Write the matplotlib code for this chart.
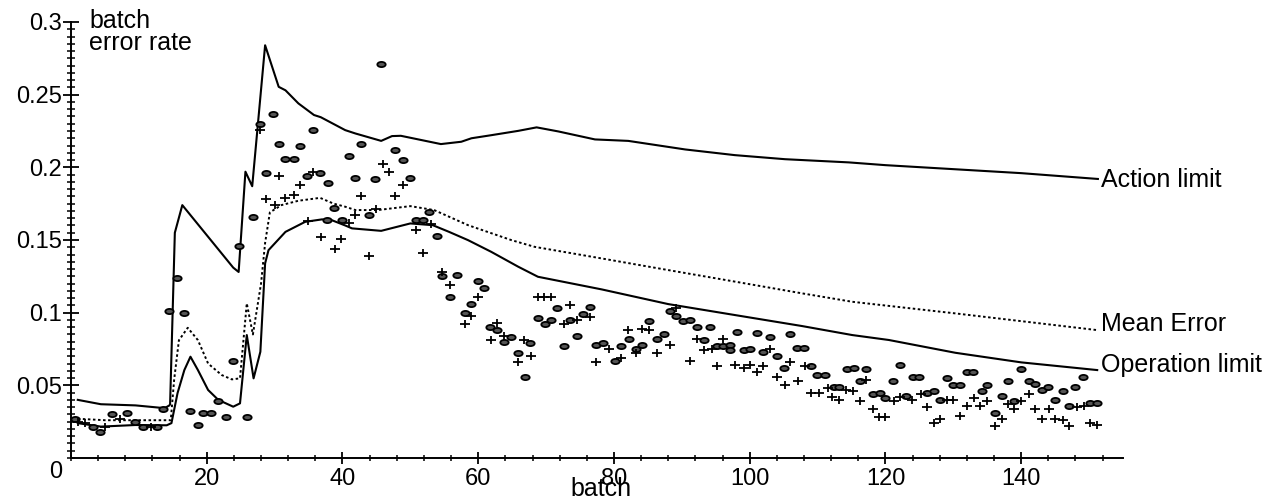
import numpy as np
import matplotlib
matplotlib.use("Agg")
import matplotlib.pyplot as plt
from matplotlib.path import Path
from matplotlib.transforms import Affine2D
from matplotlib.ticker import MultipleLocator, FixedLocator

plt.rcParams['font.family'] = ['Liberation Sans', 'DejaVu Sans']

# --- limit lines ---
action_x = [1, 4.4, 9.5, 13.1, 13.6, 14.5, 14.6, 15.3, 16.4, 23.9, 24.7, 25.7, 26.7, 28.6,
            30.6, 31.6, 33.5, 35.8, 36.8, 40.4, 41.9, 45.7, 47.3, 48.6, 54.5, 57.5, 59,
            61.9, 65.9, 68.6, 71.8, 77.2, 82.1, 90.5, 97.8, 105.2, 114.6, 120, 140, 151.3]
action_y = [0.040, 0.037, 0.0362, 0.0346, 0.0338, 0.0362, 0.037, 0.155, 0.174, 0.131, 0.128,
            0.197, 0.187, 0.284, 0.2554, 0.253, 0.244, 0.236, 0.2345, 0.2256, 0.2233, 0.2182,
            0.2215, 0.2217, 0.216, 0.2176, 0.220, 0.2221, 0.2251, 0.2275, 0.2247, 0.2192,
            0.2182, 0.2123, 0.2084, 0.2056, 0.2034, 0.2015, 0.196, 0.192]

mean_x = [1, 5, 14.5, 14.7, 15.2, 15.9, 17.2, 18.7, 20.2, 22.2, 23.7, 24.9, 25.9, 26.8, 28.0,
          28.6, 29.3, 31, 33.5, 36.7, 38.7, 40.4, 41.9, 45.2, 50, 53.5, 58.5, 64.9, 68.3,
          78.2, 88, 97.9, 107.7, 115.1, 130.3, 151.2]
mean_y = [0.027, 0.026, 0.026, 0.026, 0.054, 0.081, 0.0896, 0.0811, 0.065, 0.0571, 0.0541,
          0.0548, 0.1064, 0.085, 0.12, 0.148, 0.169, 0.174, 0.177, 0.179, 0.175, 0.1729,
          0.1706, 0.1706, 0.1733, 0.1706, 0.1602, 0.1499, 0.1453, 0.1373, 0.1293, 0.1213,
          0.1133, 0.1075, 0.0995, 0.088]

oper_x = [1, 4.4, 9.5, 14.1, 14.8, 15.7, 16.7, 17.6, 18.7, 20.2, 21.7, 23.9, 24.9, 25.9,
          26.9, 27.9, 28.6, 29.1, 31.6, 34.5, 37, 38.5, 40.4, 41.4, 45.7, 50, 53.3, 55.7,
          58.5, 61.9, 65.9, 68.8, 78.2, 88, 97.9, 107.7, 115.1, 120.5, 130.3, 140, 151.2]
oper_y = [0.024, 0.0216, 0.0227, 0.0225, 0.024, 0.0447, 0.0605, 0.0697, 0.0605, 0.0468,
          0.040, 0.0353, 0.0376, 0.0846, 0.0548, 0.0731, 0.1339, 0.143, 0.1556, 0.1625,
          0.1642, 0.1635, 0.160, 0.158, 0.1563, 0.1614, 0.1602, 0.1556, 0.1499, 0.1419,
          0.1316, 0.1247, 0.116, 0.1059, 0.0983, 0.0908, 0.0846, 0.0812, 0.0724, 0.0658,
          0.0605]

# --- batch error rates, two kinds of marks ---
circ_x = [0.6, 3.2, 4.2, 6.0, 8.3, 9.4, 10.6, 12.6, 13.5,
          14.5, 15.6, 16.6, 17.6, 18.7, 19.5, 20.7, 21.7, 22.8, 23.9, 24.7, 25.9, 26.8,
          27.8, 28.8, 29.8, 30.7, 31.6, 32.8, 33.7, 34.8, 35.7, 36.7, 37.9, 38.8, 37.7, 39.9,
          45.7, 42.8, 40.9, 47.8, 48.9, 41.9, 44.8, 50.0, 43.9, 50.9, 51.9, 52.8, 53.9,
          54.7, 56.9, 55.9, 59.9, 60.8, 58.9, 58.0, 61.8, 62.8, 64.8, 63.8, 67.7, 65.8,
          66.9, 68.8, 69.8, 70.7, 71.6, 72.6, 73.5, 74.5, 75.4, 76.5, 77.4, 78.4,
          80.1, 81.1, 82.2, 83.2, 84.2, 85.2, 86.3, 87.3, 88.3, 89.2, 90.2, 91.2, 92.2,
          93.2, 94.2, 95.2, 96.1, 97.1, 97.1, 98.1, 99.1, 100.1, 101.1, 102.0, 103.0,
          104.0, 105.0, 106.0, 107.0, 108.0, 109.1, 109.9, 111.1, 112.4, 113.1,
          114.3, 115.3, 116.2, 117.1, 118.1, 119.2, 120.0, 121.1, 122.1, 123.1, 124.0,
          125.0, 126.1, 127.1, 128.1, 129.1, 130.0, 131.0, 132.0, 132.9, 134.2, 135.0,
          136.1, 137.1, 138.1, 138.9, 140.0, 141.1, 142.0, 143.0, 144.0, 145.0, 146.1,
          147.1, 148.0, 149.1, 150.1, 151.2]
circ_y = [0.027, 0.021, 0.018, 0.030, 0.031, 0.025, 0.021, 0.021, 0.034,
          0.101, 0.124, 0.100, 0.032, 0.023, 0.031, 0.031, 0.039, 0.028, 0.067, 0.146, 0.028,
          0.166, 0.230, 0.196, 0.237, 0.216, 0.206, 0.206, 0.215, 0.194, 0.226, 0.196, 0.189,
          0.172, 0.164, 0.164,
          0.271, 0.216, 0.208, 0.212, 0.205, 0.193, 0.192, 0.193, 0.167, 0.164, 0.164,
          0.169, 0.153, 0.125, 0.126, 0.111, 0.122, 0.117, 0.106, 0.100, 0.090, 0.088,
          0.083, 0.080, 0.079, 0.072, 0.056, 0.096, 0.092, 0.095, 0.103, 0.077, 0.095,
          0.084, 0.099, 0.104, 0.078, 0.079,
          0.067, 0.077, 0.082, 0.075, 0.078, 0.094, 0.082, 0.085, 0.101, 0.098, 0.094,
          0.095, 0.090, 0.081, 0.090, 0.077, 0.077, 0.078, 0.074, 0.087, 0.074, 0.075,
          0.086, 0.073, 0.083, 0.070, 0.062, 0.085, 0.076, 0.076, 0.063, 0.057, 0.057,
          0.049, 0.049,
          0.061, 0.062, 0.053, 0.061, 0.044, 0.045, 0.041, 0.053, 0.064, 0.043, 0.056,
          0.056, 0.045, 0.046, 0.040, 0.055, 0.050, 0.050, 0.059, 0.059, 0.046, 0.050,
          0.031, 0.043, 0.053, 0.039, 0.061, 0.053, 0.051, 0.047, 0.049, 0.040, 0.046,
          0.036, 0.049, 0.056, 0.038, 0.038]

plus_x = [1.0, 2.0, 5.0, 7.2, 11.8, 27.8, 28.8, 30.0, 30.7, 31.6, 32.8, 33.7, 34.9, 35.7,
          36.9, 38.9, 39.8,
          45.9, 46.9, 48.9, 42.8, 47.8, 41.9, 40.9, 45.0, 53.0, 50.9, 43.9, 51.9, 54.7,
          55.9, 59.9, 59.0, 58.0, 62.8, 63.8, 61.9, 66.7, 67.8, 65.8, 68.8, 69.7, 70.7,
          72.6, 73.5, 76.5, 74.5, 77.4,
          79.2, 81.1, 82.1, 83.3, 84.1, 85.2, 86.3, 88.3, 89.2, 91.2, 92.2, 93.2, 94.4,
          95.2, 96.1, 97.9, 99.1, 100.1, 101.1, 102.0, 103.0, 104.0, 105.2, 106.0, 107.1,
          108.2, 109.1, 110.2, 111.5, 112.1, 113.1,
          114.2, 115.2, 117.1, 116.2, 118.1, 119.1, 120.0, 121.2, 122.1, 123.9, 125.2,
          126.1, 127.1, 128.1, 129.1, 130.0, 131.0, 132.0, 133.1, 133.9, 135.0, 136.1,
          137.2, 138.1, 139.0, 140.0, 141.2, 142.0, 143.0, 144.1, 145.0, 146.1, 147.1,
          148.2, 149.2, 150.2, 151.2]
plus_y = [0.025, 0.024, 0.021, 0.027, 0.021, 0.226, 0.178, 0.174, 0.194, 0.179, 0.181,
          0.188, 0.163, 0.197, 0.152, 0.144, 0.151,
          0.202, 0.197, 0.188, 0.180, 0.180, 0.167, 0.162, 0.171, 0.161, 0.157, 0.139,
          0.141, 0.128, 0.119, 0.111, 0.098, 0.092, 0.093, 0.084, 0.081, 0.081, 0.070,
          0.066, 0.111, 0.111, 0.111, 0.092, 0.105, 0.097, 0.095, 0.066,
          0.075, 0.069, 0.088, 0.072, 0.089, 0.088, 0.072, 0.078, 0.103, 0.067, 0.082,
          0.074, 0.075, 0.063, 0.082, 0.064, 0.062, 0.064, 0.059, 0.063, 0.075, 0.056,
          0.050, 0.066, 0.053, 0.063, 0.045, 0.045, 0.048, 0.042, 0.040,
          0.047, 0.046, 0.054, 0.039, 0.034, 0.028, 0.028, 0.039, 0.042, 0.040, 0.044,
          0.035, 0.024, 0.027, 0.040, 0.040, 0.029, 0.036, 0.041, 0.036, 0.039, 0.022,
          0.027, 0.037, 0.034, 0.039, 0.044, 0.034, 0.027, 0.034, 0.027, 0.026, 0.022,
          0.035, 0.036, 0.024, 0.023]

x_ticks = [20, 40, 60, 80, 100, 120, 140]
y_ticks = [0.05, 0.1, 0.15, 0.2, 0.25, 0.3]
y_labels = ['0.05', '0.1', '0.15', '0.2', '0.25', '0.3']

# marker shapes: flat dark blob and a wide plus
oval = Path.unit_circle().transformed(Affine2D().scale(1.0, 0.62))
wide_plus = Path([(-1, 0), (1, 0), (0, -0.75), (0, 0.75)],
                 [Path.MOVETO, Path.LINETO, Path.MOVETO, Path.LINETO])

fig = plt.figure(figsize=(12.79, 5.0), dpi=100)
ax = fig.add_axes([71 / 1279, 42 / 500, 1052 / 1279, 436 / 500])

ax.plot(action_x, action_y, color='black', lw=1.5)
ax.plot(mean_x, mean_y, color='black', lw=1.4, linestyle=(0, (1.3, 1.3)))
ax.plot(oper_x, oper_y, color='black', lw=1.5)

ax.plot(circ_x, circ_y, linestyle='none', marker=oval, markersize=6,
        markerfacecolor='#555555', markeredgecolor='black', markeredgewidth=1.3)
ax.plot(plus_x, plus_y, linestyle='none', marker=wide_plus, markersize=7,
        markerfacecolor='none', markeredgecolor='black', markeredgewidth=1.3)

ax.text(151.8, 0.191, 'Action limit', fontsize=18, va='center', ha='left')
ax.text(151.8, 0.0875, 'Mean Error', fontsize=18, va='baseline', ha='left')
ax.text(151.8, 0.0595, 'Operation limit', fontsize=18, va='baseline', ha='left')

ax.set_xlim(0, 155)
ax.set_ylim(0, 0.3)
ax.spines['top'].set_visible(False)
ax.spines['right'].set_visible(False)
ax.spines['left'].set_linewidth(1.4)
ax.spines['bottom'].set_linewidth(1.4)

ax.xaxis.set_major_locator(FixedLocator(x_ticks))
ax.xaxis.set_minor_locator(MultipleLocator(4))
ax.set_xticklabels([str(t) for t in x_ticks])
ax.yaxis.set_major_locator(FixedLocator(y_ticks))
ax.yaxis.set_minor_locator(MultipleLocator(0.005))
ax.set_yticklabels(y_labels)

ax.tick_params(which='major', direction='inout', length=11, width=1.3, labelsize=17, pad=1)
ax.tick_params(which='minor', direction='inout', length=6, width=1.1)
ax.tick_params(axis='x', which='major', length=8, pad=3)
ax.tick_params(axis='x', which='minor', length=4)

fig.text(56 / 1279, 1 - 472 / 500, '0', fontsize=17, ha='center', va='center')
fig.text(89 / 1279, 1 - 9 / 500, 'batch\nerror rate', fontsize=18, ha='left', va='top',
         linespacing=0.92)
fig.text(601 / 1279, 1 - 489 / 500, 'batch', fontsize=18, ha='center', va='center')

fig.savefig('out.png', dpi=100)
